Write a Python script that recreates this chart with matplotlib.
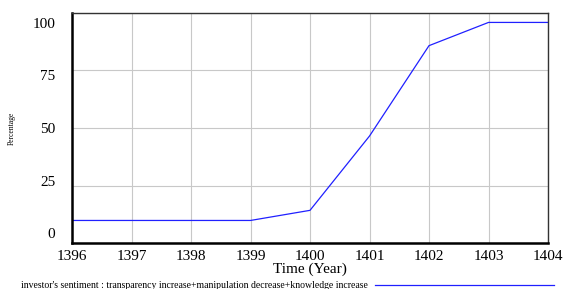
import matplotlib.pyplot as plt
import matplotlib.transforms as mtransforms

years = [1396, 1397, 1398, 1399, 1400, 1401, 1402, 1403, 1404]
sentiment = [9.8, 9.8, 9.8, 9.8, 14.2, 46.5, 85.8, 95.9, 95.9]
yticks = [0, 25, 50, 75, 100]
series_name = "investor's sentiment : transparency increase+manipulation decrease+knowledge increase"

plt.rcParams['font.family'] = ['Liberation Serif', 'DejaVu Serif']

fig = plt.figure(figsize=(5.63, 2.89), dpi=100)
ax = fig.add_axes([72/563, 1 - 243/289, 476/563, 230/289])

line, = ax.plot(years, sentiment, color='#2020ff', lw=0.9, label=series_name)

ax.set_xlim(1396, 1404)
ax.set_ylim(0, 100)
ax.set_xticks(years)
ax.set_yticks(yticks)
ax.grid(True, color='#c8c8c8', lw=0.8)
ax.set_axisbelow(True)
ax.tick_params(length=0, labelsize=11)
ax.tick_params(axis='x', pad=5)
ax.tick_params(axis='y', pad=12)

# tick labels in the original sit slightly pulled towards the middle
for v, lbl in zip(yticks, ax.get_yticklabels()):
    dy = (v - 50) / 50 * -7 / 72
    lbl.set_transform(lbl.get_transform() +
                      mtransforms.ScaledTranslation(0, dy, fig.dpi_scale_trans))

for s in ['left', 'bottom']:
    ax.spines[s].set_linewidth(1.8)
for s in ['top', 'right']:
    ax.spines[s].set_linewidth(1.0)
    ax.spines[s].set_color('#333333')

ax.set_xlabel('Time (Year)', fontsize=11, labelpad=0)
ax.set_ylabel('Percentage', fontsize=5.5)
ax.yaxis.set_label_coords(-0.118, 0.5)

fig.legend(handles=[line], loc='lower left', bbox_to_anchor=(12/563, -0.035),
           frameon=False, fontsize=7, markerfirst=False, handlelength=18.4,
           handletextpad=0.8)

plt.savefig('out.png', dpi=100)
